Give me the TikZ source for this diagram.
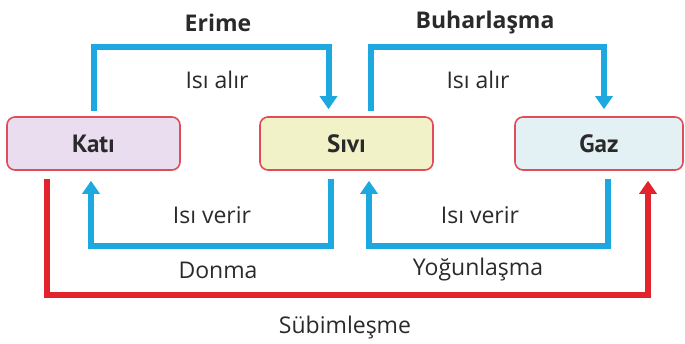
\documentclass[tikz,border=0pt]{standalone}
\usepackage{fontspec}
\setmainfont{Open Sans}
\newfontfamily\boxfont{PT Sans}
\usetikzlibrary{arrows.meta}
\definecolor{heatblue}{HTML}{1DA8E0}
\definecolor{heatred}{HTML}{E2222C}
\definecolor{edgered}{HTML}{E04C57}
\definecolor{katifill}{HTML}{EBDDF0}
\definecolor{sivifill}{HTML}{F2F2C8}
\definecolor{gazfill}{HTML}{E3F0F4}
\definecolor{ink}{HTML}{2A2A2A}

\begin{document}
\begin{tikzpicture}[x=1pt,y=1pt,
	state/.style={draw=edgered,line width=1.6pt,rounded corners=8pt,minimum width=173pt,minimum height=53pt,inner sep=0pt,text=ink,font=\boxfont\bfseries\fontsize{25}{28}\selectfont},
	heat/.style={line width=6pt,-{Triangle[length=13pt,width=17pt]}},
	lbl/.style={text=ink,font=\fontsize{23}{26}\selectfont},
	]
	\useasboundingbox (0,0) rectangle (685,344);
	% states
	\node[state,fill=katifill] (kati) at (93.5,200.5) {Katı};
	\node[state,fill=sivifill] (sivi) at (346.5,200.5) {Sıvı};
	\node[state,fill=gazfill,minimum width=168pt] (gaz) at (599,200.5) {Gaz};
	% heat taken
	\draw[heat,heatblue,shorten <=5pt] (kati.north) -- ++(0,69) -| ([xshift=-18pt,yshift=7pt]sivi.north);
	\draw[heat,heatblue,shorten <=5pt] ([xshift=24.5pt]sivi.north) -- ++(0,69) -| ([xshift=5pt,yshift=7pt]gaz.north);
	% heat given
	\draw[heat,heatblue,shorten <=8pt] ([xshift=-15.5pt]sivi.south) -- ++(0,-75) -| ([xshift=-2.5pt,yshift=-10pt]kati.south);
	\draw[heat,heatblue,shorten <=8pt] ([xshift=9pt]gaz.south) -- ++(0,-75) -| ([xshift=22.5pt,yshift=-10pt]sivi.south);
	% sublimation
	\draw[heat,heatred,shorten <=8pt] ([xshift=-46.5pt]kati.south) -- ++(0,-124) -| ([xshift=49pt,yshift=-10pt]gaz.south);
	% labels
	\node[lbl,font=\bfseries\fontsize{23}{26}\selectfont] (erime) at (218,321) {Erime};
	\node[lbl] (alir1) at (217,264) {Isı alır};
	\node[lbl,font=\bfseries\fontsize{23}{26}\selectfont] (buhar) at (485,321) {Buharlaşma};
	\node[lbl] (alir2) at (478,264) {Isı alır};
	\node[lbl] (verir1) at (212,129) {Isı verir};
	\node[lbl] (verir2) at (480,129) {Isı verir};
	\node[lbl] (donma) at (218,74) {Donma};
	\node[lbl] (yogun) at (478,74) {Yoğunlaşma};
	\node[lbl] (subli) at (345,16) {Sübimleşme};
\end{tikzpicture}
\end{document}
